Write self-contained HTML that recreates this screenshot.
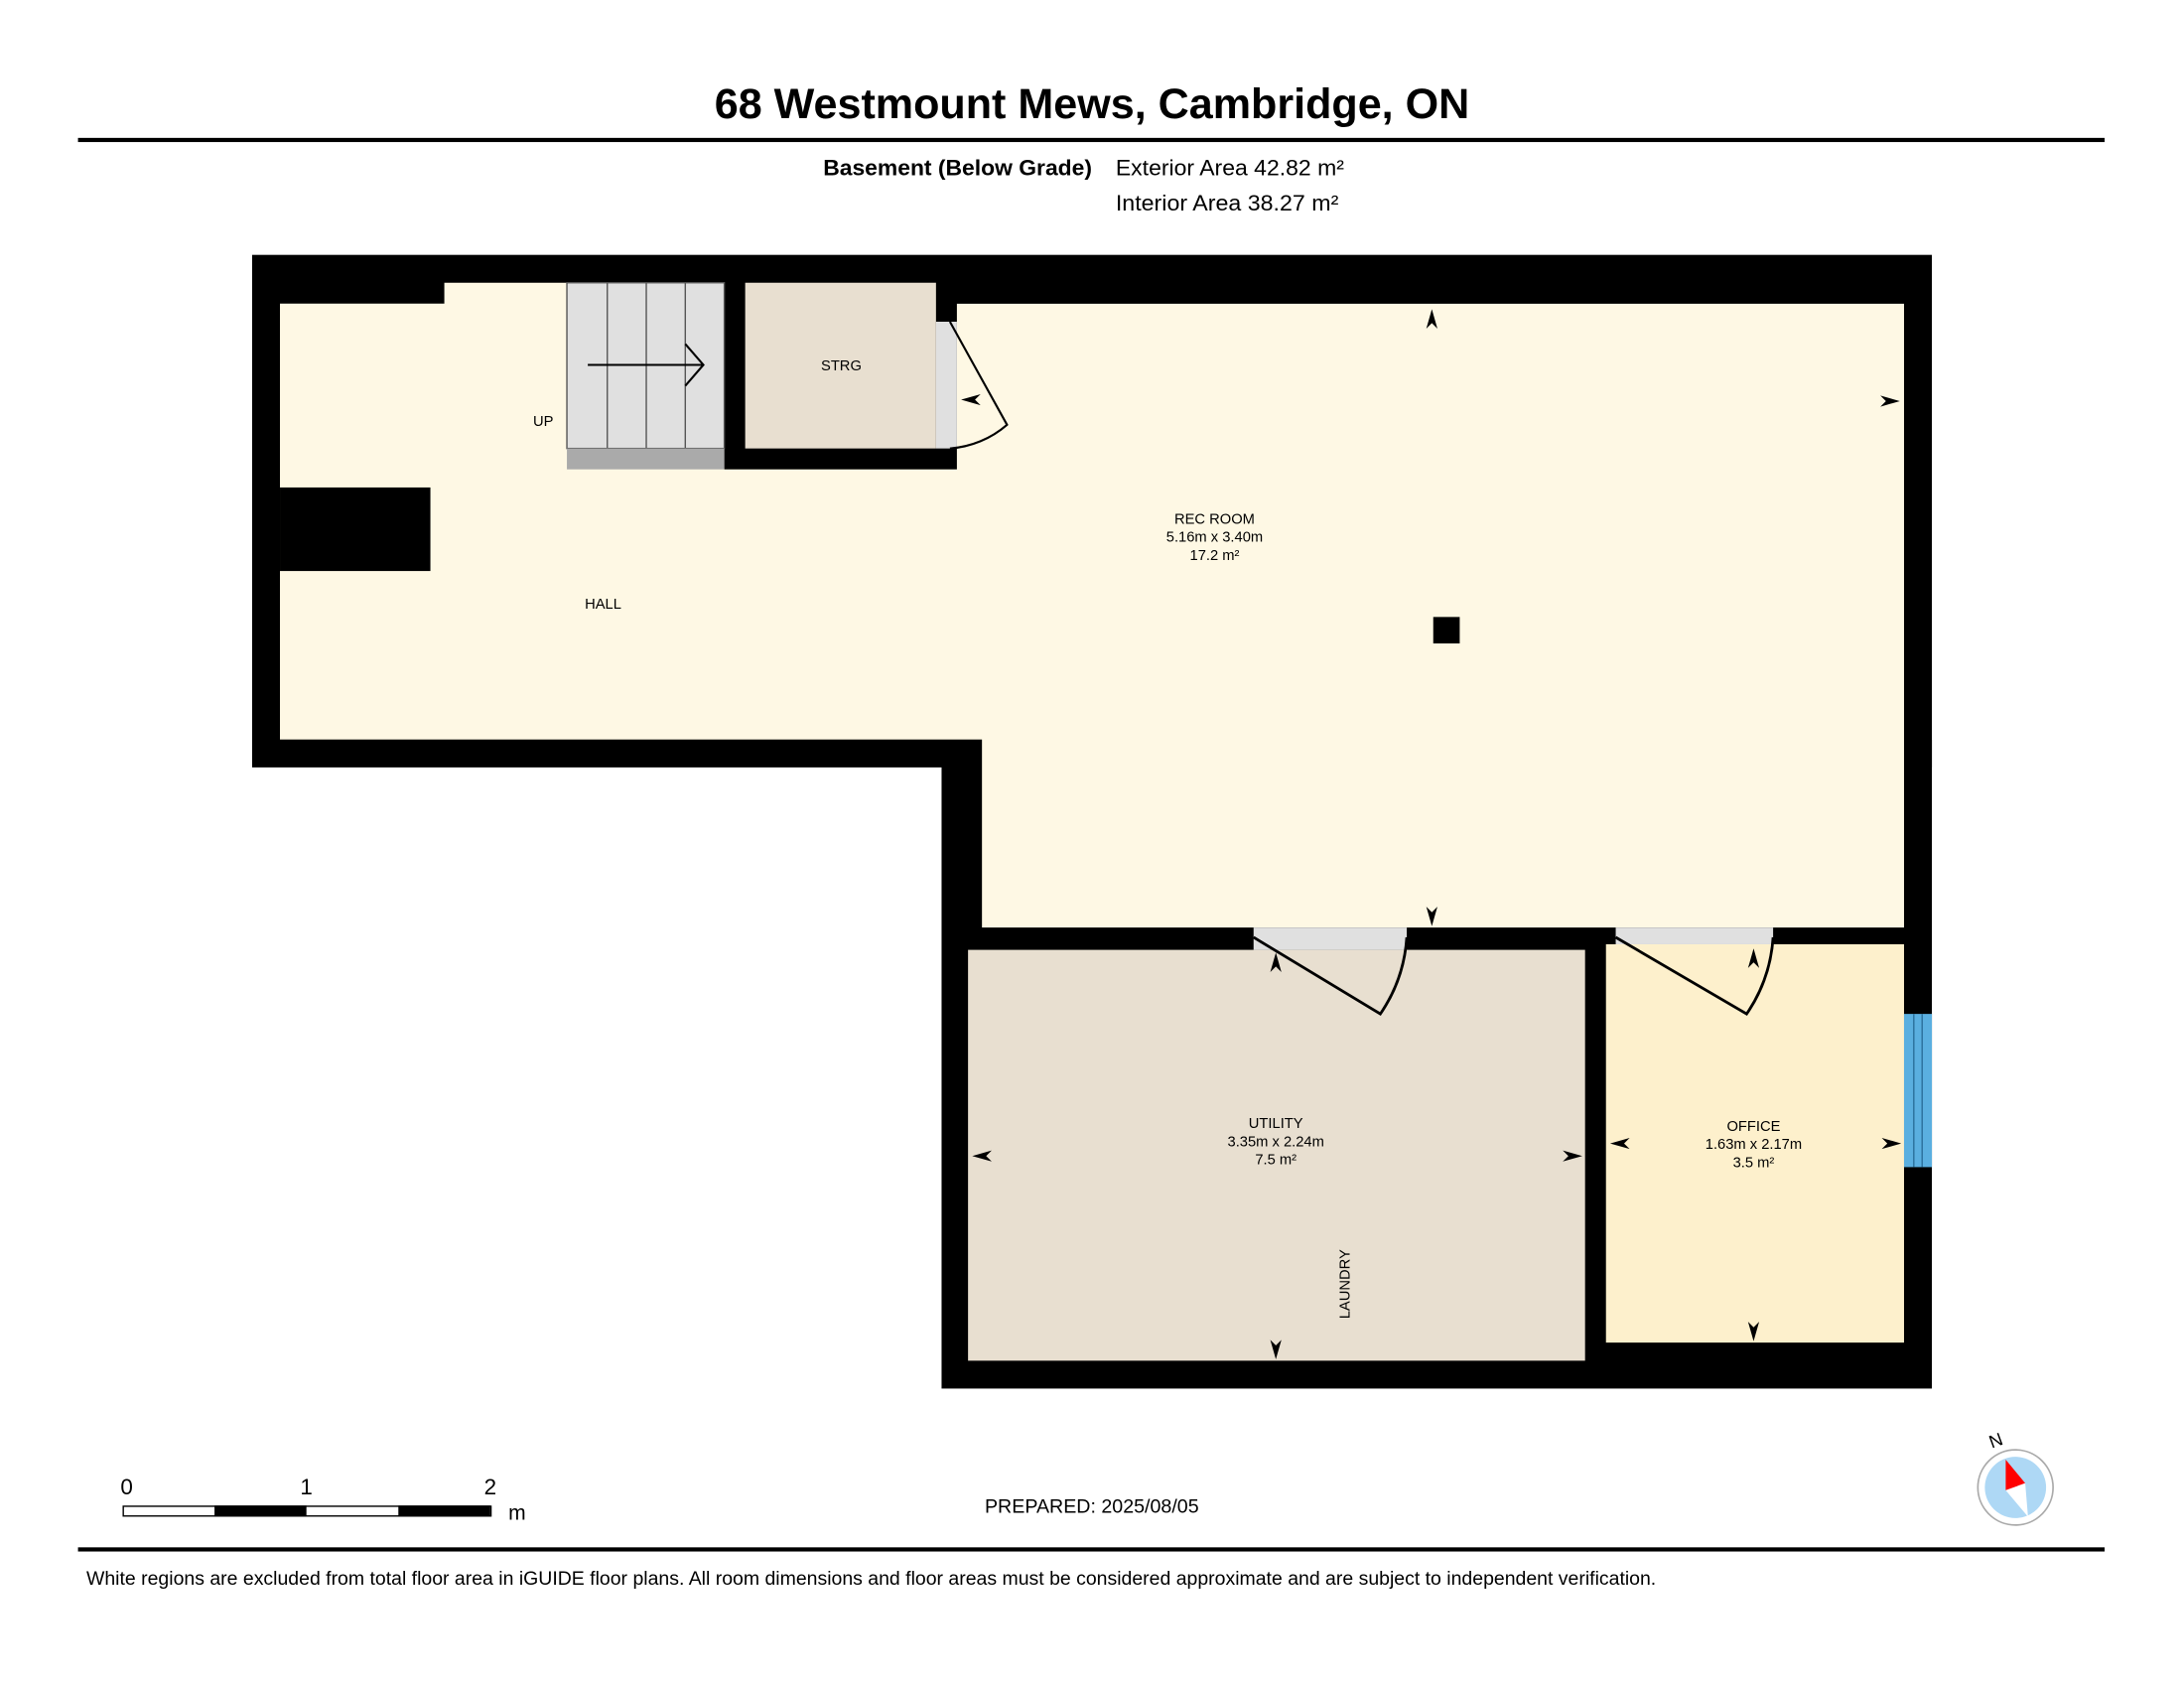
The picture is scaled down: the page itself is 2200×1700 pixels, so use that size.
<!DOCTYPE html>
<html><head><meta charset="utf-8"><style>
html,body{margin:0;padding:0;background:#fff}
svg{display:block}
text{font-family:"Liberation Sans",sans-serif}
</style></head><body>
<svg width="2200" height="1700" viewBox="0 0 1568 1212" preserveAspectRatio="none">
<rect width="1568" height="1212" fill="#fff"/>
<text x="784" y="85" font-size="30.5" font-weight="bold" text-anchor="middle" textLength="542" lengthAdjust="spacingAndGlyphs">68 Westmount Mews, Cambridge, ON</text>
<rect x="56" y="99" width="1455" height="3" fill="#000"/>
<text x="784" y="126" font-size="15.5" font-weight="bold" text-anchor="end" textLength="193" lengthAdjust="spacingAndGlyphs">Basement (Below Grade)</text>
<text x="801" y="126" font-size="15.5" textLength="164" lengthAdjust="spacingAndGlyphs">Exterior Area 42.82 m²</text>
<text x="801" y="151" font-size="15.5" textLength="160" lengthAdjust="spacingAndGlyphs">Interior Area 38.27 m²</text>

<rect x="181" y="183" width="1206" height="368" fill="#000"/>
<rect x="676" y="531" width="711" height="466" fill="#000"/>
<path d="M201 218 H319 V203 H407 V218 H1367 V666 H705 V531 H201 Z" fill="#FEF8E4"/>
<rect x="520" y="203" width="167" height="134" fill="#000"/>
<rect x="687" y="203" width="680" height="15" fill="#000"/>
<rect x="201" y="350" width="108" height="60" fill="#000"/>
<rect x="1029" y="443" width="19" height="19" fill="#000"/>
<rect x="407" y="203" width="113" height="119" fill="#E0E0E0"/>
<g stroke="#555" stroke-width="1"><line x1="436" y1="203" x2="436" y2="322"/><line x1="464" y1="203" x2="464" y2="322"/><line x1="492" y1="203" x2="492" y2="322"/><rect x="407" y="203" width="113" height="119" fill="none"/></g>
<rect x="407" y="322" width="113" height="15" fill="#AAAAAA"/>
<line x1="422" y1="262" x2="505" y2="262" stroke="#000" stroke-width="1.5"/>
<polyline points="492,247 505,262 492,277" fill="none" stroke="#000" stroke-width="1.5"/>
<rect x="535" y="203" width="137" height="119" fill="#E8DFD0"/>
<rect x="672" y="231" width="15" height="91" fill="#E0E0E0"/>
<path d="M682 231 L723 305 A70 70 0 0 1 682 322" fill="none" stroke="#000" stroke-width="1.5"/>
<rect x="695" y="682" width="443" height="295" fill="#E8DFD0"/>
<rect x="1153" y="678" width="214" height="286" fill="#FDF0CC"/>
<rect x="900" y="666" width="110" height="16" fill="#E0E0E0"/>
<rect x="1160" y="666" width="113" height="12" fill="#E0E0E0"/>
<path d="M900 673 L991 728 A110 110 0 0 0 1010 673" fill="none" stroke="#000" stroke-width="2"/>
<path d="M1160 673 L1254 728 A110 110 0 0 0 1273 673" fill="none" stroke="#000" stroke-width="2"/>
<rect x="1367" y="728" width="20" height="110" fill="#5AAFE0"/>
<g stroke="#2a6f9a" stroke-width="1"><line x1="1374" y1="728" x2="1374" y2="838"/><line x1="1380" y1="728" x2="1380" y2="838"/></g>
<g fill="#000">
<path d="M1028 222 l-4 14 l4 -4 l4 4z"/>
<path d="M1364 288 l-14 -4 l4 4 l-4 4z"/>
<path d="M690 287 l14 -4 l-4 4 l4 4z"/>
<path d="M1028 665 l-4 -14 l4 4 l4 -4z"/>
<path d="M916 684 l-4 14 l4 -4 l4 4z"/>
<path d="M1259 681 l-4 14 l4 -4 l4 4z"/>
<path d="M698 830 l14 -4 l-4 4 l4 4z"/>
<path d="M1136 830 l-14 -4 l4 4 l-4 4z"/>
<path d="M1156 821 l14 -4 l-4 4 l4 4z"/>
<path d="M1365 821 l-14 -4 l4 4 l-4 4z"/>
<path d="M916 976 l-4 -14 l4 4 l4 -4z"/>
<path d="M1259 963 l-4 -14 l4 4 l4 -4z"/>
</g>
<g font-size="10.5" text-anchor="middle">
<text x="604" y="266">STRG</text>
<text x="390" y="306">UP</text>
<text x="433" y="437">HALL</text>
<text x="872" y="376">REC ROOM</text>
<text x="872" y="389">5.16m x 3.40m</text>
<text x="872" y="402">17.2 m²</text>
<text x="916" y="810">UTILITY</text>
<text x="916" y="823">3.35m x 2.24m</text>
<text x="916" y="836">7.5 m²</text>
<text x="1259" y="812">OFFICE</text>
<text x="1259" y="825">1.63m x 2.17m</text>
<text x="1259" y="838">3.5 m²</text>
<text x="0" y="0" transform="translate(969,922) rotate(-90)">LAUNDRY</text>
</g>
<rect x="88.5" y="1081.5" width="264" height="7" fill="#fff" stroke="#000" stroke-width="1"/>
<rect x="154" y="1081" width="66" height="8" fill="#000"/>
<rect x="286" y="1081" width="66" height="8" fill="#000"/>
<g font-size="16" text-anchor="middle"><text x="91" y="1073">0</text><text x="220" y="1073">1</text><text x="352" y="1073">2</text></g>
<text x="365" y="1091" font-size="15">m</text>
<text x="707" y="1086" font-size="14">PREPARED: 2025/08/05</text>
<circle cx="1447" cy="1068" r="27" fill="#fff" stroke="#aaa" stroke-width="1.2"/>
<circle cx="1447" cy="1068" r="22" fill="#AED8F5"/>
<polygon points="1440,1048 1454,1065 1440,1070" fill="#f00"/>
<polygon points="1440,1070 1454,1065 1456,1089" fill="#fff"/>
<text x="0" y="0" font-size="13" transform="translate(1430,1040) rotate(-20)">N</text>
<rect x="56" y="1111" width="1455" height="3" fill="#000"/>
<text x="62" y="1138" font-size="13.5" textLength="1127" lengthAdjust="spacingAndGlyphs">White regions are excluded from total floor area in iGUIDE floor plans. All room dimensions and floor areas must be considered approximate and are subject to independent verification.</text>
</svg>
</body></html>
